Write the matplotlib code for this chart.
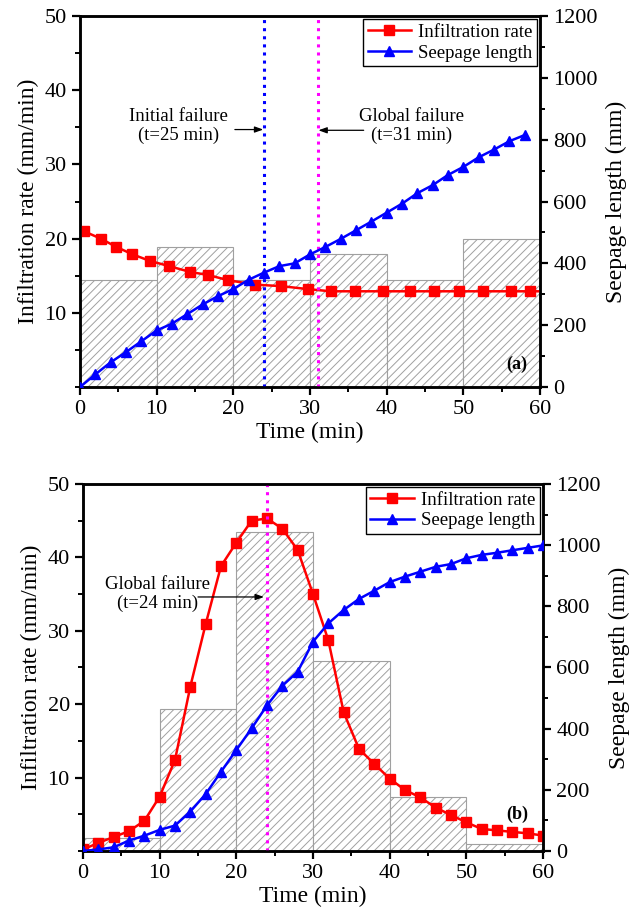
import matplotlib
matplotlib.use("Agg")
import matplotlib.pyplot as plt
from matplotlib.ticker import MultipleLocator

plt.rcParams['font.family'] = ['Liberation Serif', 'DejaVu Serif']
plt.rcParams['hatch.color'] = '#b0b0b0'
plt.rcParams['hatch.linewidth'] = 0.7

# ---------------- data: panel (a) ----------------
a_rate_t = [0.5, 2.7, 4.7, 6.8, 9.1, 11.6, 14.4, 16.7, 19.3, 22.8, 26.2, 29.7,
            32.7, 35.9, 39.5, 43.0, 46.2, 49.4, 52.5, 56.2, 58.7, 60.0]
a_rate = [21.0, 20.0, 18.9, 17.9, 17.0, 16.3, 15.5, 15.1, 14.4, 13.8, 13.6, 13.2,
          12.9, 12.9, 12.9, 12.9, 12.9, 12.9, 12.9, 12.9, 12.9, 12.9]
a_rate_marker_t = a_rate_t[:-1]
a_rate_marker = a_rate[:-1]
a_seep_t = [0, 2, 4, 6, 8, 10, 12, 14, 16, 18, 20, 22, 24, 26, 28, 30, 32, 34, 36,
            38, 40, 42, 44, 46, 48, 50, 52, 54, 56, 58]
a_seep = [0, 41, 80, 113, 148, 183, 205, 236, 267, 294, 317, 347, 370, 391, 400,
          429, 453, 479, 507, 535, 564, 593, 627, 653, 686, 712, 743, 768, 795, 815]
a_bar_left = [0, 10, 20, 30, 40, 50]
a_bar_h = [14.4, 18.9, 14.4, 17.9, 14.4, 19.9]
a_initial_t = 24
a_global_t = 31

# ---------------- data: panel (b) ----------------
b_t = [0, 2, 4, 6, 8, 10, 12, 14, 16, 18, 20, 22, 24, 26, 28, 30, 32, 34, 36, 38,
       40, 42, 44, 46, 48, 50, 52, 54, 56, 58, 60]
b_rate = [0.2, 1.1, 1.9, 2.7, 4.1, 7.4, 12.4, 22.4, 30.9, 38.8, 42.0, 45.0, 45.3,
          43.9, 41.0, 35.0, 28.7, 18.9, 13.9, 11.85, 9.85, 8.3, 7.3, 5.9, 4.9, 3.9,
          3.0, 2.8, 2.6, 2.4, 2.1]
b_seep = [0, 5, 12, 34, 50, 69, 83, 129, 186, 259, 330, 401, 476, 540, 586, 684,
          744, 788, 824, 851, 879, 897, 913, 929, 938, 957, 968, 975, 983, 991, 999]
b_bar_left = [0, 10, 20, 30, 40, 50]
b_bar_h = [1.8, 19.4, 43.5, 25.9, 7.4, 0.9]
b_global_t = 24

x_ticks = [0, 10, 20, 30, 40, 50, 60]
left_ticks = [10, 20, 30, 40, 50]
right_ticks = [0, 200, 400, 600, 800, 1000, 1200]

fig = plt.figure(figsize=(6.35, 9.16), dpi=100)

TICK_FS = 16
LABEL_FS = 17
LEG_FS = 13.5
ANN_FS = 13.5


def style_axes(ax, ax2):
    for a in (ax, ax2):
        for s in a.spines.values():
            s.set_linewidth(1.8)
    ax.set_xlim(0, 60)
    ax.set_ylim(0, 50)
    ax2.set_ylim(0, 1200)
    ax.set_xticks(x_ticks)
    ax.set_yticks(left_ticks)
    ax2.set_yticks(right_ticks)
    ax.xaxis.set_minor_locator(MultipleLocator(5))
    ax.yaxis.set_minor_locator(MultipleLocator(5))
    ax2.yaxis.set_minor_locator(MultipleLocator(100))
    ax.tick_params(which='major', direction='out', length=6, width=1.6,
                   labelsize=TICK_FS, top=False, right=False)
    ax.tick_params(which='minor', direction='out', length=3.5, width=1.4,
                   top=False, right=False)
    ax2.tick_params(which='major', direction='out', length=6, width=1.6,
                    labelsize=TICK_FS)
    ax2.tick_params(which='minor', direction='out', length=3.5, width=1.4)
    ax.set_xlabel('Time (min)', fontsize=LABEL_FS, labelpad=2)
    ax.set_ylabel('Infiltration rate (mm/min)', fontsize=LABEL_FS, labelpad=4)
    ax2.set_ylabel('Seepage length (mm)', fontsize=LABEL_FS, labelpad=6)


def draw_bars(ax, lefts, heights):
    ax.bar(lefts, heights, width=10, align='edge', facecolor='white',
           edgecolor='#a0a0a0', linewidth=0.8, hatch='////', zorder=1)


def add_legend(ax2, h1, h2):
    leg = ax2.legend([h1, h2], ['Infiltration rate', 'Seepage length'],
                     loc='upper right', fontsize=LEG_FS, frameon=True,
                     fancybox=False, framealpha=1, edgecolor='black',
                     borderaxespad=0.15, handlelength=2.3, handletextpad=0.4,
                     borderpad=0.25, labelspacing=0.2, numpoints=1)
    leg.get_frame().set_linewidth(1.0)


def annotate(ax, text, text_xy, arrow_from, arrow_to):
    ax.text(text_xy[0], text_xy[1], text, ha='center', va='center',
            fontsize=ANN_FS, linespacing=1.1, zorder=6)
    ax.annotate('', xy=arrow_to, xytext=arrow_from,
                arrowprops=dict(arrowstyle='-|>,head_length=0.5,head_width=0.18',
                                color='black', lw=0.9, shrinkA=0, shrinkB=0),
                zorder=6)


# ---------------- panel (a) ----------------
ax = fig.add_axes([0.126, 0.5775, 0.7244, 0.405])
ax2 = ax.twinx()
draw_bars(ax, a_bar_left, a_bar_h)
ax.plot(a_rate_t, a_rate, '-', color='#ff0000', lw=1.8, zorder=4)
ax.plot(a_rate_marker_t, a_rate_marker, 's', color='#ff0000', ms=6.5, zorder=4)
h1, = ax.plot([], [], '-s', color='#ff0000', lw=1.8, ms=6.5)
h2, = ax2.plot(a_seep_t, a_seep, '-^', color='#0000ff', lw=1.8, ms=7.5, zorder=4)
ax.axvline(a_initial_t, color='#0000ff', ls=':', lw=2.2, zorder=5)
ax.axvline(a_global_t, color='#ff00ff', ls=':', lw=2.2, zorder=5)
annotate(ax, 'Initial failure\n(t=25 min)', (12.9, 35.2), (20.2, 34.7), (23.9, 34.7))
annotate(ax, 'Global failure\n(t=31 min)', (43.3, 35.2), (37.0, 34.6), (31.1, 34.6))
ax.text(57.0, 3.1, '(a)', fontsize=13, fontweight='bold', ha='center', va='center')
style_axes(ax, ax2)
add_legend(ax2, h1, h2)

# ---------------- panel (b) ----------------
bx = fig.add_axes([0.1307, 0.071, 0.7244, 0.4007])
bx2 = bx.twinx()
draw_bars(bx, b_bar_left, b_bar_h)
g1, = bx.plot(b_t, b_rate, '-s', color='#ff0000', lw=1.8, ms=6.5, zorder=4)
g2, = bx2.plot(b_t, b_seep, '-^', color='#0000ff', lw=1.8, ms=7.5, zorder=4)
bx.axvline(b_global_t, color='#ff00ff', ls=':', lw=2.2, zorder=5)
annotate(bx, 'Global failure\n(t=24 min)', (9.7, 35.0), (15.0, 34.6), (23.6, 34.6))
bx.text(56.6, 5.0, '(b)', fontsize=13, fontweight='bold', ha='center', va='center')
style_axes(bx, bx2)
add_legend(bx2, g1, g2)

fig.savefig('out.png', dpi=100)
